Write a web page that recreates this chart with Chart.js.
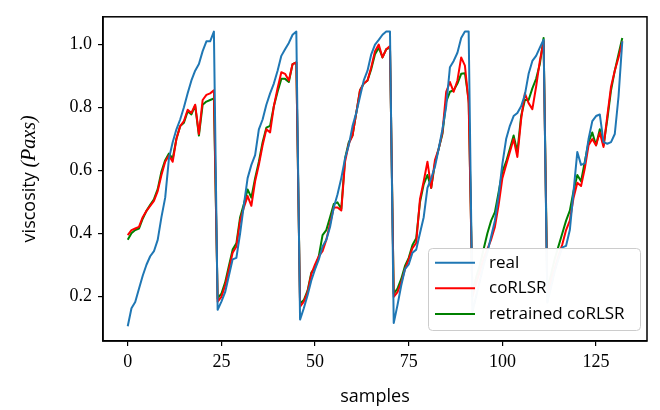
<!DOCTYPE html>
<html>
<head>
<meta charset="utf-8">
<script src="https://cdn.jsdelivr.net/npm/chart.js@4.4.1/dist/chart.umd.min.js"></script>
<style>
  html, body { margin: 0; padding: 0; background: #fff; }
</style>
</head>
<body>
<canvas id="viscCanvas" width="660" height="410"></canvas>
<script>
// measured viscosity vs. model predictions, one value per sample
const real = [
  0.105, 0.162, 0.182, 0.224, 0.265, 0.300, 0.327, 0.343, 0.379, 0.451,
  0.513, 0.637, 0.689, 0.730, 0.761, 0.800, 0.844, 0.885, 0.916, 0.937,
  0.978, 1.009, 1.009, 1.040, 0.157, 0.183, 0.213, 0.265, 0.317, 0.322,
  0.400, 0.490, 0.575, 0.617, 0.648, 0.730, 0.761, 0.808, 0.844, 0.875,
  0.916, 0.963, 0.984, 1.004, 1.030, 1.040, 0.126, 0.162, 0.203, 0.250,
  0.286, 0.317, 0.358, 0.379, 0.420, 0.482, 0.524, 0.575, 0.637, 0.679,
  0.740, 0.782, 0.834, 0.885, 0.916, 0.968, 0.999, 1.014, 1.030, 1.040,
  1.040, 0.115, 0.172, 0.234, 0.286, 0.301, 0.338, 0.348, 0.400, 0.451,
  0.544, 0.575, 0.611, 0.668, 0.730, 0.803, 0.927, 0.947, 0.973, 1.020,
  1.040, 1.040, 0.150, 0.200, 0.250, 0.300, 0.340, 0.390, 0.440, 0.520,
  0.620, 0.699, 0.741, 0.772, 0.782, 0.803, 0.839, 0.906, 0.947, 0.963,
  0.989, 1.014, 0.180, 0.230, 0.280, 0.320, 0.355, 0.360, 0.410, 0.534,
  0.658, 0.617, 0.622, 0.699, 0.756, 0.772, 0.777, 0.689, 0.684, 0.689,
  0.715, 0.834, 1.009
];
const coRLSR = [
  0.394, 0.410, 0.415, 0.420, 0.451, 0.471, 0.487, 0.503, 0.534, 0.585,
  0.627, 0.647, 0.627, 0.700, 0.740, 0.756, 0.792, 0.782, 0.808, 0.715,
  0.823, 0.839, 0.844, 0.854, 0.183, 0.198, 0.234, 0.286, 0.338, 0.358,
  0.441, 0.482, 0.518, 0.487, 0.565, 0.617, 0.679, 0.730, 0.720, 0.803,
  0.860, 0.911, 0.906, 0.885, 0.937, 0.942, 0.167, 0.183, 0.213, 0.270,
  0.301, 0.327, 0.343, 0.379, 0.430, 0.482, 0.482, 0.472, 0.627, 0.684,
  0.710, 0.782, 0.854, 0.875, 0.885, 0.927, 0.978, 0.999, 0.958, 0.984,
  0.994, 0.198, 0.213, 0.244, 0.286, 0.317, 0.353, 0.369, 0.508, 0.565,
  0.627, 0.544, 0.632, 0.668, 0.720, 0.849, 0.880, 0.849, 0.885, 0.958,
  0.932, 0.813, 0.200, 0.240, 0.280, 0.320, 0.350, 0.380, 0.420, 0.490,
  0.575, 0.617, 0.658, 0.699, 0.642, 0.761, 0.844, 0.813, 0.794, 0.865,
  0.947, 1.009, 0.200, 0.250, 0.290, 0.330, 0.365, 0.410, 0.440, 0.513,
  0.560, 0.550, 0.606, 0.679, 0.699, 0.679, 0.720, 0.674, 0.772, 0.865,
  0.916, 0.958, 1.009
];
const retrained = [
  0.379, 0.400, 0.410, 0.415, 0.446, 0.471, 0.490, 0.508, 0.540, 0.596,
  0.632, 0.653, 0.637, 0.700, 0.740, 0.751, 0.787, 0.777, 0.805, 0.710,
  0.808, 0.818, 0.823, 0.828, 0.193, 0.208, 0.244, 0.296, 0.348, 0.368,
  0.451, 0.493, 0.539, 0.513, 0.575, 0.627, 0.689, 0.735, 0.741, 0.803,
  0.849, 0.890, 0.890, 0.880, 0.937, 0.942, 0.177, 0.188, 0.218, 0.275,
  0.291, 0.327, 0.394, 0.410, 0.451, 0.493, 0.498, 0.477, 0.637, 0.689,
  0.710, 0.782, 0.854, 0.875, 0.885, 0.921, 0.968, 0.989, 0.958, 0.984,
  0.989, 0.208, 0.224, 0.255, 0.296, 0.322, 0.363, 0.384, 0.498, 0.555,
  0.585, 0.544, 0.622, 0.668, 0.715, 0.818, 0.849, 0.854, 0.875, 0.906,
  0.908, 0.823, 0.210, 0.260, 0.300, 0.350, 0.400, 0.440, 0.467, 0.530,
  0.596, 0.627, 0.668, 0.710, 0.658, 0.772, 0.823, 0.823, 0.860, 0.890,
  0.937, 1.020, 0.220, 0.270, 0.320, 0.360, 0.400, 0.440, 0.472, 0.534,
  0.585, 0.565, 0.627, 0.689, 0.720, 0.679, 0.730, 0.679, 0.761, 0.854,
  0.916, 0.968, 1.020
];

const xTicks = [0, 25, 50, 75, 100, 125];
const yTicks = [0.2, 0.4, 0.6, 0.8, 1.0];

const seriesNames = ["real", "coRLSR", "retrained coRLSR"];
const seriesColors = ["#1f77b4", "#ff0000", "#008000"];

const serif = "'Liberation Serif', 'DejaVu Serif', serif";
const sans = "'Open Sans', 'DejaVu Sans', sans-serif";

function toPoints(values) {
  const pts = [];
  for (let i = 0; i < values.length; i++) {
    pts.push({ x: i, y: values[i] });
  }
  return pts;
}

// box round the axes, y label with the math part, and the legend
const decorations = {
  id: "decorations",
  afterDraw(chart) {
    const ctx = chart.ctx;
    const a = chart.chartArea;
    ctx.save();

    ctx.strokeStyle = "#000";
    ctx.lineWidth = 1.5;
    ctx.strokeRect(a.left, a.top, a.right - a.left, a.bottom - a.top);

    // y axis label: "viscosity" + italic (Paxs)
    const part1 = "viscosity ";
    const part2 = "(Paxs)";
    const f1 = "18px " + sans;
    const f2 = "italic 20px " + serif;
    ctx.font = f1;
    const w1 = ctx.measureText(part1).width;
    ctx.font = f2;
    const w2 = ctx.measureText(part2).width;
    ctx.translate(30, (a.top + a.bottom) / 2);
    ctx.rotate(-Math.PI / 2);
    ctx.fillStyle = "#000";
    ctx.textBaseline = "middle";
    ctx.textAlign = "left";
    ctx.font = f1;
    ctx.fillText(part1, -(w1 + w2) / 2, 0);
    ctx.font = f2;
    ctx.fillText(part2, -(w1 + w2) / 2 + w1, 0);
    ctx.setTransform(1, 0, 0, 1, 0, 0);

    // x axis label
    ctx.font = "18px " + sans;
    ctx.textAlign = "center";
    ctx.textBaseline = "middle";
    ctx.fillText("samples", (a.left + a.right) / 2, 397);

    // legend, lower right inside the axes
    const lx = 428.5, ly = 248.5, lw = 212, lh = 82, r = 4;
    ctx.beginPath();
    ctx.moveTo(lx + r, ly);
    ctx.arcTo(lx + lw, ly, lx + lw, ly + lh, r);
    ctx.arcTo(lx + lw, ly + lh, lx, ly + lh, r);
    ctx.arcTo(lx, ly + lh, lx, ly, r);
    ctx.arcTo(lx, ly, lx + lw, ly, r);
    ctx.closePath();
    ctx.fillStyle = "rgba(255,255,255,0.97)";
    ctx.fill();
    ctx.strokeStyle = "#cccccc";
    ctx.lineWidth = 1;
    ctx.stroke();

    ctx.font = "17px " + sans;
    ctx.textAlign = "left";
    const rows = [262.7, 288.3, 314];
    for (let k = 0; k < seriesNames.length; k++) {
      ctx.strokeStyle = seriesColors[k];
      ctx.lineWidth = 2;
      ctx.beginPath();
      ctx.moveTo(435, rows[k]);
      ctx.lineTo(475, rows[k]);
      ctx.stroke();
      ctx.fillStyle = "#000";
      ctx.fillText(seriesNames[k], 489, rows[k]);
    }
    ctx.restore();
  }
};

new Chart(document.getElementById("viscCanvas"), {
  type: "line",
  data: {
    datasets: [
      { label: seriesNames[0], data: toPoints(real), borderColor: seriesColors[0] },
      { label: seriesNames[1], data: toPoints(coRLSR), borderColor: seriesColors[1] },
      { label: seriesNames[2], data: toPoints(retrained), borderColor: seriesColors[2] }
    ]
  },
  options: {
    responsive: false,
    animation: false,
    devicePixelRatio: 1,
    layout: { padding: { left: 0, right: 13, top: 10, bottom: 0 } },
    elements: {
      point: { radius: 0 },
      line: { borderWidth: 2, tension: 0, fill: false, borderJoinStyle: "round" }
    },
    plugins: {
      legend: { display: false },
      tooltip: { enabled: false }
    },
    scales: {
      x: {
        type: "linear",
        min: -6.6,
        max: 138.6,
        afterBuildTicks: s => { s.ticks = xTicks.map(v => ({ value: v })); },
        afterFit: s => { s.height = 69; },
        grid: { drawOnChartArea: false, drawTicks: true, tickLength: 5, color: "#000", lineWidth: 1.2 },
        border: { display: true, color: "#000", width: 1.5 },
        ticks: {
          color: "#000",
          font: { family: serif, size: 18 },
          padding: 5,
          maxRotation: 0,
          callback: v => String(v)
        }
      },
      y: {
        min: 0.058,
        max: 1.087,
        afterBuildTicks: s => { s.ticks = yTicks.map(v => ({ value: v })); },
        afterFit: s => { s.width = 103; },
        grid: { drawOnChartArea: false, drawTicks: true, tickLength: 5, color: "#000", lineWidth: 1.2 },
        border: { display: true, color: "#000", width: 1.5 },
        ticks: {
          color: "#000",
          font: { family: serif, size: 18 },
          padding: 6,
          callback: v => v.toFixed(1)
        }
      }
    }
  },
  plugins: [decorations]
});
</script>
</body>
</html>
